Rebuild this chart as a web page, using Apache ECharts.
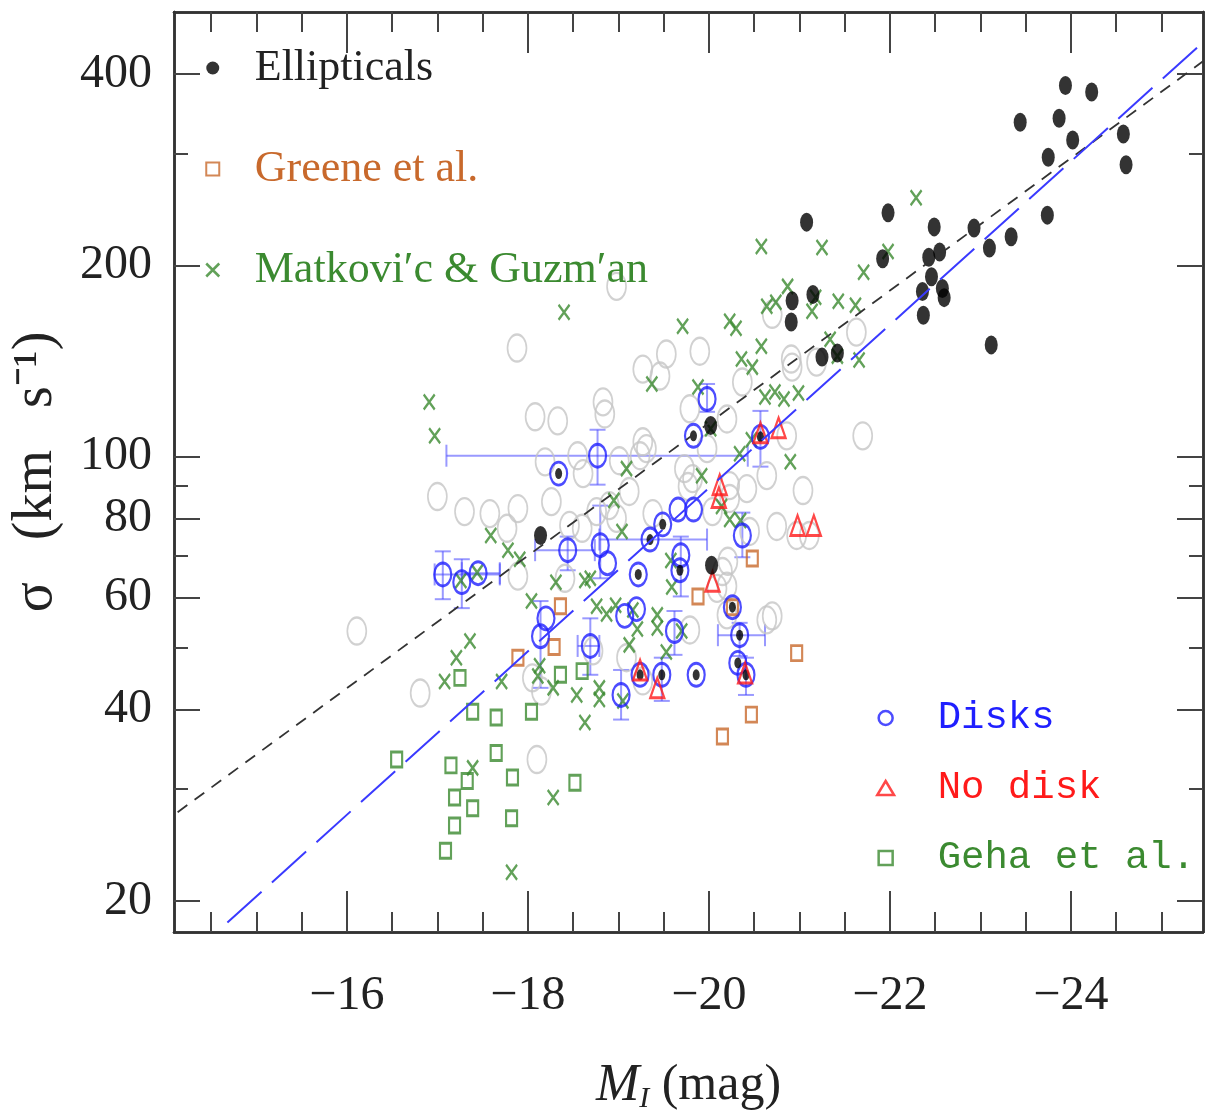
<!DOCTYPE html>
<html>
<head>
<meta charset="utf-8">
<script src="https://cdn.jsdelivr.net/npm/echarts@6/dist/echarts.min.js"></script>
<style>html,body{margin:0;padding:0;background:#fff}#c{width:1212px;height:1119px}</style>
</head>
<body>
<div id="c"></div>
<script>
// ---------------- DATA (M_I in mag, sigma in km/s) ----------------
const ellipticals = [[-23.94,384],[-24.23,375],[-23.44,336],[-23.87,341],[-24.02,315],[-23.75,296],[-24.58,322],[-24.61,288],[-23.74,240],[-21.08,234],[-21.98,242],[-22.49,230],[-22.93,229],[-23.34,222],[-23.10,213],[-22.43,206],[-22.55,210],[-21.92,205],[-22.46,192],[-22.36,182],[-22.58,184],[-22.60,178],[-22.37,167],[-23.12,150],[-20.92,176],[-21.15,180],[-20.91,163],[-21.25,143.5],[-21.42,145.6],[-20.02,112],[-18.14,75.2],[-20.03,67.5]];

const greene = [[-20.48,69.2],[-19.88,60.3],[-20.26,58.0],[-20.97,49.1],[-20.47,39.3],[-20.15,36.3],[-18.36,58.2],[-18.29,50.2],[-17.89,48.3]];

const matkovic = [[-18.40,168.8],[-16.91,122.0],[-16.97,107.9],[-19.71,160.5],[-20.23,163.4],[-20.30,159.3],[-20.64,172.5],[-20.74,175.0],[-20.87,185.4],[-21.18,178.2],[-21.14,169.4],[-21.43,175.7],[-21.62,173.2],[-20.58,214.2],[-21.25,213.4],[-21.98,210.4],[-21.71,195.1],[-22.29,255.6],[-20.58,149.3],[-20.36,142.5],[-20.48,138.4],[-21.34,153.1],[-21.42,144.0],[-21.66,142.0],[-19.37,130.2],[-19.88,128.8],[-20.62,124.2],[-20.73,126.5],[-20.83,123.3],[-20.99,126.0],[-20.02,110.7],[-20.34,101.1],[-20.47,106.4],[-20.90,98.2],[-19.09,95.8],[-19.92,93.4],[-18.95,85.4],[-19.04,76.3],[-20.14,83.5],[-20.23,79.7],[-20.35,79.4],[-19.58,68.7],[-17.59,75.2],[-17.78,71.3],[-17.91,69.0],[-17.26,63.9],[-17.44,65.8],[-18.31,63.5],[-18.63,63.9],[-18.69,64.4],[-18.04,59.3],[-18.76,58.2],[-18.87,56.6],[-18.97,58.4],[-19.16,57.4],[-19.59,62.4],[-19.43,56.4],[-19.43,53.8],[-19.21,53.6],[-19.12,50.6],[-19.53,49.3],[-19.70,53.2],[-17.36,51.3],[-17.21,48.3],[-17.08,44.3],[-17.71,44.3],[-18.13,46.9],[-18.11,45.2],[-18.28,43.3],[-18.54,42.2],[-18.79,43.3],[-18.79,41.5],[-18.63,38.2],[-17.39,32.4],[-18.28,29.1],[-17.82,22.2],[-19.05,41.3]];

// disks: [M_I, sigma, hasCentralDot]
const disks = [[-19.98,123.3,0],[-19.83,107.9,1],[-20.57,107.5,1],[-18.77,100.4,0],[-18.34,94.1,1],[-20.37,75.2,0],[-19.66,82.6,0],[-19.83,82.6,0],[-19.49,78.3,1],[-19.35,74.1,1],[-18.44,71.3,0],[-18.80,72.6,0],[-18.88,68.0,0],[-19.69,70.0,0],[-19.68,66.3,1],[-19.22,65.3,1],[-17.06,65.3,0],[-17.27,63.5,0],[-17.45,65.6,0],[-18.20,55.7,0],[-18.14,52.2,0],[-19.07,56.2,0],[-19.20,57.6,0],[-19.62,53.2,0],[-20.26,58.0,1],[-20.34,52.4,1],[-20.32,47.4,1],[-18.69,50.4,0],[-19.24,45.4,1],[-19.48,45.4,1],[-19.86,45.4,1],[-20.41,45.4,1],[-19.03,42.2,0]];

// disk error bars: [M_I, sigma, M_lo, M_hi, sigma_lo, sigma_hi]
const diskErrors = [[-19.98,123.3,null,null,117.7,130.2],[-20.57,107.5,null,null,96.5,118.1],[-18.77,100.4,-17.10,-20.43,90.4,110.3],[-20.37,75.2,null,null,69.5,81.7],[-19.35,74.1,-18.79,-19.98,null,null],[-18.44,71.3,-18.08,-18.74,66.3,74.9],[-18.80,72.6,null,null,64.4,83.8],[-19.69,70.0,null,null,60.3,74.9],[-17.06,65.3,-16.97,-17.69,59.7,71.0],[-17.27,63.5,null,null,57.8,69.0],[-17.45,65.6,-17.27,-17.69,null,null],[-18.14,52.2,null,null,43.3,59.3],[-19.62,53.2,null,null,48.8,57.2],[-20.34,52.4,-20.10,-20.62,48.6,54.8],[-18.69,50.4,-18.55,-18.79,45.4,55.7],[-19.48,45.4,null,null,41.3,48.3],[-20.41,45.4,null,null,42.2,48.3],[-19.03,42.2,null,null,38.6,46.2]];

const noDisk = [[-20.77,111.1],[-20.57,109.1],[-20.12,90.4],[-20.11,86.3],[-20.98,78.0],[-21.16,78.0],[-20.04,63.7],[-19.24,46.2],[-19.43,43.3],[-20.40,45.7]];

const geha = [[-17.25,44.9],[-17.39,39.7],[-17.65,38.9],[-18.04,39.7],[-16.55,33.4],[-17.65,34.2],[-17.15,32.7],[-17.33,30.9],[-17.19,29.1],[-17.39,28.0],[-17.83,31.3],[-17.19,26.3],[-17.82,27.0],[-18.52,30.7],[-17.09,24.0],[-18.36,45.4],[-18.60,46.0]];

const others = [[-17.88,148.3],[-18.08,115.6],[-18.33,113.9],[-18.19,98.2],[-18.55,100.4],[-18.61,94.1],[-18.83,122.0],[-18.85,116.8],[-17.00,86.6],[-17.30,82.0],[-17.58,81.4],[-17.89,82.9],[-18.26,85.0],[-17.77,77.2],[-18.46,78.0],[-18.60,77.2],[-17.89,64.9],[-18.98,185.4],[-19.53,145.1],[-19.27,137.4],[-19.46,134.0],[-19.90,146.6],[-20.37,131.1],[-20.91,142.5],[-21.63,157.1],[-19.79,119.0],[-20.20,114.7],[-21.70,107.9],[-19.27,105.6],[-19.31,103.0],[-19.01,98.6],[-19.24,100.4],[-19.98,103.0],[-19.73,95.8],[-19.82,92.4],[-19.77,89.8],[-20.23,90.1],[-20.42,89.1],[-20.64,93.4],[-20.23,86.0],[-21.04,88.5],[-20.75,77.7],[-19.12,88.2],[-18.90,83.8],[-18.98,80.0],[-18.76,82.0],[-19.38,81.4],[-20.04,82.0],[-20.45,76.3],[-20.97,75.2],[-21.11,75.2],[-20.15,66.0],[-20.21,68.5],[-20.70,56.2],[-20.64,55.4],[-20.20,56.4],[-19.79,53.4],[-19.09,48.3],[-19.27,44.4],[-20.09,62.1],[-20.20,62.6],[-16.11,53.2],[-16.81,42.5],[-18.10,33.4],[-18.41,64.4],[-18.05,44.9],[-18.15,42.8],[-20.70,167.6],[-20.92,138.4],[-21.19,140.9],[-20.86,107.9],[-18.72,49.5]];

const blackFit = [[-14.13,27.6],[-25.46,419]];
const blueFit = [[-14.68,18.5],[-25.46,449]];

const xMajorTicks = [-16,-18,-20,-22,-24];
const xMinorTicks = [-14.5,-15,-15.5,-16.5,-17,-17.5,-18.5,-19,-19.5,-20.5,-21,-21.5,-22.5,-23,-23.5,-24.5,-25];
const yMajorTicks = [20,40,60,80,100,200,400];
const yMinorTicks = [30,50,70,90,300];

// ---------------- STYLE ----------------
const X_MIN = -25.46, X_MAX = -14.09, Y_MIN = 17.88, Y_MAX = 501;
const C_BLUE = '#1f1fff', C_RED = '#ff1a1a', C_ORANGE = '#c8692c', C_GREEN = '#3b8a30', C_GRAY = '#c6c6c6';
const C_ERR = 'rgba(70,70,255,0.55)';
const SERIF = "'Liberation Serif','Times New Roman',serif";
const MONO = "'Liberation Mono','Courier New',monospace";
const ELLIPSE = 'path://M0,10A10,10,0,1,1,20,10A10,10,0,1,1,0,10Z';
const CROSS = 'path://M0,0L10,10M10,0L0,10';
const SQUARE = 'path://M0,0L10,0L10,10L0,10Z';
const TRI = 'path://M6,0L12,10L0,10Z';

function xAx(pos, ticks, len, withLabels) {
  const ax = {
    type: 'value', position: pos, min: X_MIN, max: X_MAX, inverse: true,
    axisLine: { show: true, onZero: false, lineStyle: { color: '#333', width: 2.5 } },
    axisTick: { show: true, inside: true, length: len, customValues: ticks, lineStyle: { color: '#444', width: 2 } },
    axisLabel: { show: false },
    splitLine: { show: false }
  };
  if (withLabels) {
    ax.axisLabel = { show: true, customValues: xMajorTicks, margin: 40, fontFamily: SERIF, fontSize: 48, color: '#222',
      formatter: v => (v < 0 ? '\u2212' + Math.abs(v) : String(v)) };
    ax.name = '{it|M}{sub|I}{n| (mag)}';
    ax.nameLocation = 'middle';
    ax.nameGap = 126;
    ax.nameTextStyle = { fontFamily: SERIF, fontSize: 50, color: '#222',
      rich: { it: { fontFamily: SERIF, fontStyle: 'italic', fontSize: 52, color: '#222' },
              sub: { fontFamily: SERIF, fontStyle: 'italic', fontSize: 30, color: '#222', verticalAlign: 'bottom', padding: [26, 0, 0, 0] },
              n: { fontFamily: SERIF, fontSize: 50, color: '#222' } } };
  }
  return ax;
}
function yAx(pos, ticks, len, withLabels) {
  const ax = {
    type: 'log', logBase: 10, position: pos, min: Y_MIN, max: Y_MAX,
    axisLine: { show: true, onZero: false, lineStyle: { color: '#333', width: 2.5 } },
    axisTick: { show: true, inside: true, length: len, customValues: ticks, lineStyle: { color: '#444', width: 2 } },
    axisLabel: { show: false },
    splitLine: { show: false }
  };
  if (withLabels) {
    ax.axisLabel = { show: true, customValues: yMajorTicks, margin: 22, fontFamily: SERIF, fontSize: 48, color: '#222' };
    ax.name = '\u03c3   (km   s\u207b\u00b9)';
    ax.nameLocation = 'middle';
    ax.nameGap = 110;
    ax.nameTextStyle = { fontFamily: SERIF, fontSize: 56, color: '#222' };
  }
  return ax;
}

function renderErr(params, api) {
  const x = api.value(0), y = api.value(1);
  const xl = api.value(2), xh = api.value(3), yl = api.value(4), yh = api.value(5);
  const st = { stroke: C_ERR, lineWidth: 2, fill: null };
  const ch = [];
  const seg = (x1, y1, x2, y2) => ch.push({ type: 'line', shape: { x1, y1, x2, y2 }, style: st });
  if (isFinite(xl) && isFinite(xh)) {
    const a = api.coord([xl, y]), b = api.coord([xh, y]);
    seg(a[0], a[1], b[0], b[1]);
    seg(a[0], a[1] - 11, a[0], a[1] + 11);
    seg(b[0], b[1] - 11, b[0], b[1] + 11);
  }
  if (isFinite(yl) && isFinite(yh)) {
    const a = api.coord([x, yl]), b = api.coord([x, yh]);
    seg(a[0], a[1], b[0], b[1]);
    seg(a[0] - 8, a[1], a[0] + 8, a[1]);
    seg(b[0] - 8, b[1], b[0] + 8, b[1]);
  }
  return { type: 'group', children: ch };
}

const hollow = (c, w) => ({ color: 'rgba(0,0,0,0)', borderColor: c, borderWidth: w });

const chart = echarts.init(document.getElementById('c'), null, { renderer: 'canvas' });
chart.setOption({
  animation: false,
  backgroundColor: '#fff',
  grid: { left: 174, right: 9, top: 12, bottom: 184, containLabel: false },
  xAxis: [xAx('bottom', xMajorTicks, 41, true), xAx('bottom', xMinorTicks, 20, false),
          xAx('top', xMajorTicks, 41, false), xAx('top', xMinorTicks, 20, false)],
  yAxis: [yAx('left', yMajorTicks, 26, true), yAx('left', yMinorTicks, 14, false),
          yAx('right', yMajorTicks, 26, false), yAx('right', yMinorTicks, 14, false)],
  legend: [
    { orient: 'vertical', left: 205, top: 43, padding: 0, itemGap: 51, itemWidth: 74, itemHeight: 13, selectedMode: false,
      symbolKeepAspect: true,
      textStyle: { fontFamily: SERIF, fontSize: 44, lineHeight: 50 },
      data: [
        { name: 'Ellipticals', icon: ELLIPSE, itemStyle: { color: '#000', borderWidth: 0 }, textStyle: { color: '#222' } },
        { name: 'Greene et al.', icon: SQUARE, itemStyle: hollow(C_ORANGE, 2), textStyle: { color: C_ORANGE } },
        { name: 'Matkovi\u2032c & Guzm\u2032an', icon: CROSS, itemStyle: hollow(C_GREEN, 2.5), textStyle: { color: C_GREEN } }
      ] },
    { orient: 'vertical', left: 876, top: 698, padding: 0, itemGap: 30, itemWidth: 94, itemHeight: 14, selectedMode: false,
      symbolKeepAspect: true,
      textStyle: { fontFamily: MONO, fontSize: 39, lineHeight: 40 },
      data: [
        { name: 'Disks', icon: ELLIPSE, itemStyle: hollow(C_BLUE, 2.5), textStyle: { color: C_BLUE } },
        { name: 'No disk', icon: TRI, itemStyle: hollow(C_RED, 2.5), textStyle: { color: C_RED } },
        { name: 'Geha et al.', icon: SQUARE, itemStyle: hollow(C_GREEN, 2.5), textStyle: { color: C_GREEN } }
      ] }
  ],
  series: [
    { name: 'Other', type: 'scatter', data: others, symbol: ELLIPSE, symbolSize: [19, 27], itemStyle: hollow(C_GRAY, 2), silent: true },
    { name: 'Geha et al.', type: 'scatter', data: geha, symbol: 'rect', symbolSize: [11, 15], itemStyle: hollow(C_GREEN, 2.5) },
    { name: 'Matkovi\u2032c & Guzm\u2032an', type: 'scatter', data: matkovic, symbol: CROSS, symbolSize: [11, 15], itemStyle: hollow(C_GREEN, 2.5) },
    { name: 'Greene et al.', type: 'scatter', data: greene, symbol: 'rect', symbolSize: [11, 15], itemStyle: hollow(C_ORANGE, 2.5) },
    { name: 'Disk errors', type: 'custom', data: diskErrors, renderItem: renderErr, silent: true, clip: true },
    { name: 'Disks', type: 'scatter', data: disks.map(d => [d[0], d[1]]), symbol: ELLIPSE, symbolSize: [17, 23], itemStyle: hollow(C_BLUE, 2.5) },
    { name: 'Disk core', type: 'scatter', data: disks.filter(d => d[2]).map(d => [d[0], d[1]]), symbol: ELLIPSE, symbolSize: [7, 11], itemStyle: { color: '#000' } },
    { name: 'No disk', type: 'scatter', data: noDisk, symbol: 'triangle', symbolSize: [14, 20], itemStyle: hollow(C_RED, 2.5) },
    { name: 'Ellipticals', type: 'scatter', data: ellipticals, symbol: ELLIPSE, symbolSize: [13, 19], itemStyle: { color: '#000' } },
    { name: 'Fit all', type: 'line', data: blackFit, showSymbol: false, symbol: 'none', silent: true,
      lineStyle: { color: '#333', width: 1.8, type: [12, 9] } },
    { name: 'Fit disks', type: 'line', data: blueFit, showSymbol: false, symbol: 'none', silent: true,
      lineStyle: { color: '#3a3aff', width: 2, type: [46, 14] } }
  ]
});
</script>
</body>
</html>
